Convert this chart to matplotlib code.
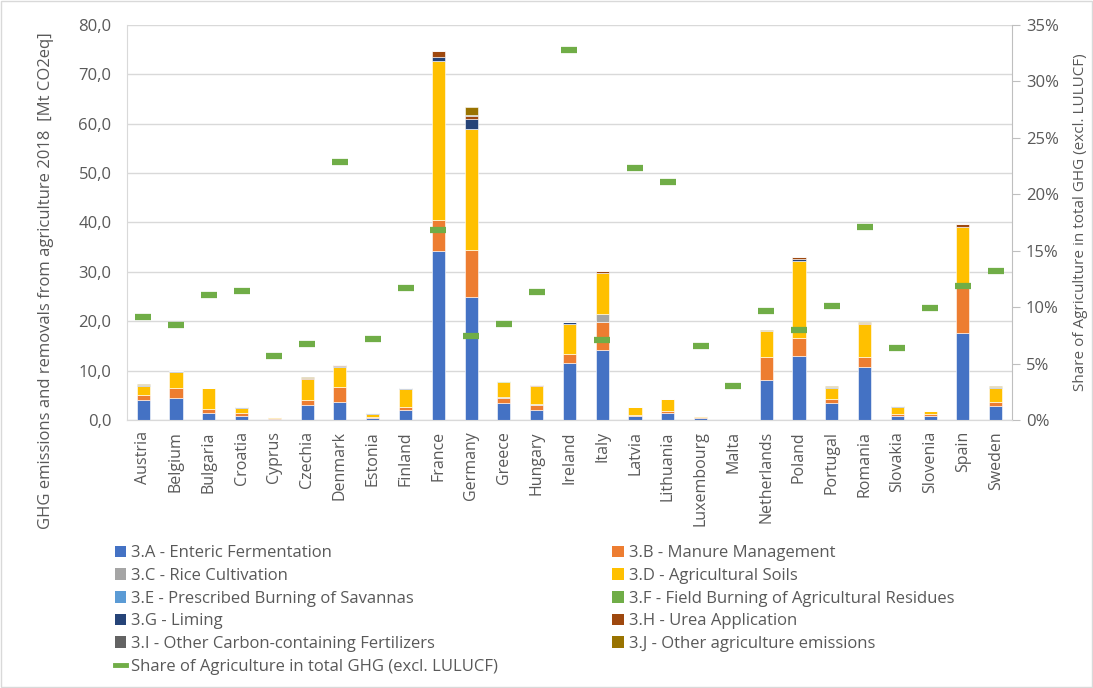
import numpy as np
import matplotlib
matplotlib.use('Agg')
from matplotlib import pyplot as plt
from matplotlib.lines import Line2D
from matplotlib.patches import Patch, Rectangle
from matplotlib.ticker import FuncFormatter

plt.rcParams['font.family'] = ['Open Sans', 'DejaVu Sans']

countries = ['Austria', 'Belgium', 'Bulgaria', 'Croatia', 'Cyprus', 'Czechia', 'Denmark',
             'Estonia', 'Finland', 'France', 'Germany', 'Greece', 'Hungary', 'Ireland',
             'Italy', 'Latvia', 'Lithuania', 'Luxembourg', 'Malta', 'Netherlands', 'Poland',
             'Portugal', 'Romania', 'Slovakia', 'Slovenia', 'Spain', 'Sweden']

# Mt CO2eq per category, 2018
cat_a = [4.1, 4.5, 1.5, 0.9, 0.15, 3.0, 3.7, 0.5, 2.0, 34.2, 25.0, 3.5, 2.0, 11.5,
         14.2, 0.8, 1.5, 0.45, 0.05, 8.2, 13.0, 3.4, 10.8, 0.9, 0.9, 17.6, 2.9]
cat_b = [1.0, 1.9, 0.7, 0.6, 0.2, 1.0, 3.0, 0.2, 0.7, 6.3, 9.4, 1.0, 1.1, 1.9,
         5.6, 0.15, 0.4, 0.1, 0.03, 4.6, 3.7, 0.8, 2.0, 0.3, 0.4, 9.1, 0.7]
cat_c = [0.0, 0.0, 0.05, 0.0, 0.0, 0.0, 0.0, 0.0, 0.0, 0.1, 0.0, 0.1, 0.05, 0.0,
         1.6, 0.0, 0.0, 0.0, 0.0, 0.0, 0.0, 0.15, 0.0, 0.0, 0.0, 0.3, 0.0]
cat_d = [1.8, 3.3, 4.2, 1.0, 0.2, 4.3, 4.0, 0.6, 3.6, 32.2, 24.6, 3.2, 3.7, 6.0,
         8.3, 1.65, 2.3, 0.2, 0.02, 5.2, 15.5, 2.2, 6.6, 1.5, 0.5, 12.0, 2.9]
cat_e = [0.0] * 27
cat_f = [0.0, 0.0, 0.0, 0.02, 0.0, 0.0, 0.0, 0.0, 0.0, 0.0, 0.0, 0.02, 0.0, 0.0,
         0.02, 0.0, 0.0, 0.0, 0.0, 0.0, 0.0, 0.02, 0.1, 0.0, 0.0, 0.05, 0.0]
cat_g = [0.1, 0.15, 0.0, 0.05, 0.0, 0.1, 0.3, 0.05, 0.2, 0.7, 1.9, 0.0, 0.05, 0.4,
         0.05, 0.0, 0.05, 0.02, 0.0, 0.05, 0.5, 0.05, 0.0, 0.05, 0.0, 0.05, 0.15]
cat_h = [0.1, 0.05, 0.05, 0.1, 0.02, 0.15, 0.1, 0.02, 0.05, 1.3, 0.6, 0.05, 0.1, 0.1,
         0.5, 0.05, 0.05, 0.01, 0.0, 0.05, 0.4, 0.1, 0.1, 0.05, 0.02, 0.5, 0.05]
cat_i = [0.0, 0.0, 0.0, 0.0, 0.0, 0.0, 0.0, 0.0, 0.0, 0.0, 0.3, 0.0, 0.0, 0.0,
         0.0, 0.0, 0.0, 0.0, 0.0, 0.0, 0.0, 0.0, 0.0, 0.0, 0.0, 0.0, 0.0]
cat_j = [0.15, 0.05, 0.05, 0.05, 0.0, 0.15, 0.0, 0.0, 0.0, 0.0, 1.6, 0.0, 0.1, 0.0,
         0.0, 0.0, 0.0, 0.05, 0.0, 0.1, 0.0, 0.15, 0.3, 0.0, 0.0, 0.1, 0.2]

# share of agriculture in total GHG (excl. LULUCF), %
share = [9.1, 8.4, 11.1, 11.4, 5.7, 6.7, 22.9, 7.2, 11.7, 16.8, 7.4, 8.5, 11.3, 32.8,
         7.1, 22.3, 21.1, 6.6, 3.0, 9.7, 8.0, 10.1, 17.1, 6.4, 9.9, 11.9, 13.2]

labels = ['3.A - Enteric Fermentation', '3.B - Manure Management', '3.C - Rice Cultivation',
          '3.D - Agricultural Soils', '3.E - Prescribed Burning of Savannas',
          '3.F - Field Burning of Agricultural Residues', '3.G - Liming',
          '3.H - Urea Application', '3.I - Other Carbon-containing Fertilizers',
          '3.J - Other agriculture emissions']
series = [cat_a, cat_b, cat_c, cat_d, cat_e, cat_f, cat_g, cat_h, cat_i, cat_j]
colors = ['#4472C4', '#ED7D31', '#A5A5A5', '#FFC000', '#5B9BD5',
          '#70AD47', '#264478', '#9E480E', '#636363', '#997300']
grey = '#595959'

fig = plt.figure(figsize=(10.93, 6.88), dpi=100)
ax = fig.add_axes([0.116, 0.3895, 0.810, 0.5742])
ax2 = ax.twinx()
ax.set_zorder(ax2.get_zorder() - 1)
ax2.patch.set_visible(False)

x = np.arange(len(countries))
bottom = np.zeros(len(countries))
for vals, col in zip(series, colors):
    v = np.array(vals)
    ax.bar(x, v, 0.4, bottom=bottom, color=col, edgecolor='white', linewidth=0.4, zorder=3)
    bottom += v

ax2.plot(x, np.array(share) / 100, linestyle='none', marker='_', markersize=12,
         markeredgewidth=4.5, color='#70AD47', zorder=5)

ax.set_xlim(-0.5, len(countries) - 0.5)
ax.set_ylim(0, 80)
ax.set_yticks(np.arange(0, 81, 10))
ax.yaxis.set_major_formatter(FuncFormatter(lambda v, p: f'{v:.1f}'.replace('.', ',')))
ax.grid(axis='y', color='#D9D9D9', linewidth=1, zorder=0)
ax.set_xticks(x)
ax.set_xticklabels(countries, rotation=90, fontsize=11.5, color=grey)
ax.tick_params(axis='x', length=0, pad=8)
ax.tick_params(axis='y', length=0, labelsize=12, labelcolor=grey, pad=11)
ax.set_ylabel('GHG emissions and removals from agriculture 2018  [Mt CO2eq]',
              fontsize=12, color=grey)
ax.yaxis.set_label_coords(-0.082, 0.352)

ax2.set_ylim(0, 0.35)
ax2.set_yticks(np.arange(0, 0.351, 0.05))
ax2.yaxis.set_major_formatter(FuncFormatter(lambda v, p: f'{round(v * 100)}%'))
ax2.tick_params(axis='y', length=6, color='#BFBFBF', labelsize=12, labelcolor=grey, pad=4)
ax2.set_ylabel('Share of Agriculture in total GHG (excl. LULUCF)', fontsize=11,
               color=grey, labelpad=10)

for a in (ax, ax2):
    for s in ('top', 'left', 'right'):
        a.spines[s].set_visible(False)
    a.spines['bottom'].set_color('#D9D9D9')
ax.spines['left'].set_visible(True)
ax.spines['left'].set_color('#D9D9D9')
ax2.spines['right'].set_visible(True)
ax2.spines['right'].set_color('#BFBFBF')

# legend in two separate columns, read row by row
patches = [Patch(facecolor=c, label=l) for c, l in zip(colors, labels)]
share_handle = Line2D([], [], color='#70AD47', linewidth=3.5,
                      label='Share of Agriculture in total GHG (excl. LULUCF)')
leg_kw = dict(loc='upper left', frameon=False, fontsize=12, labelcolor=grey,
              handlelength=0.7, handleheight=0.7, handletextpad=0.3,
              labelspacing=0.40, borderpad=0, borderaxespad=0)
leg1 = fig.legend(handles=patches[0::2] + [share_handle],
                  bbox_to_anchor=(0.105, 0.2075), **leg_kw)
leg2 = fig.legend(handles=patches[1::2], bbox_to_anchor=(0.560, 0.2075), **leg_kw)

fig.patches.append(Rectangle((0.001, 0.001), 0.998, 0.997, transform=fig.transFigure,
                             fill=False, edgecolor='#D9D9D9', linewidth=1))

fig.savefig('out.png', dpi=100)
